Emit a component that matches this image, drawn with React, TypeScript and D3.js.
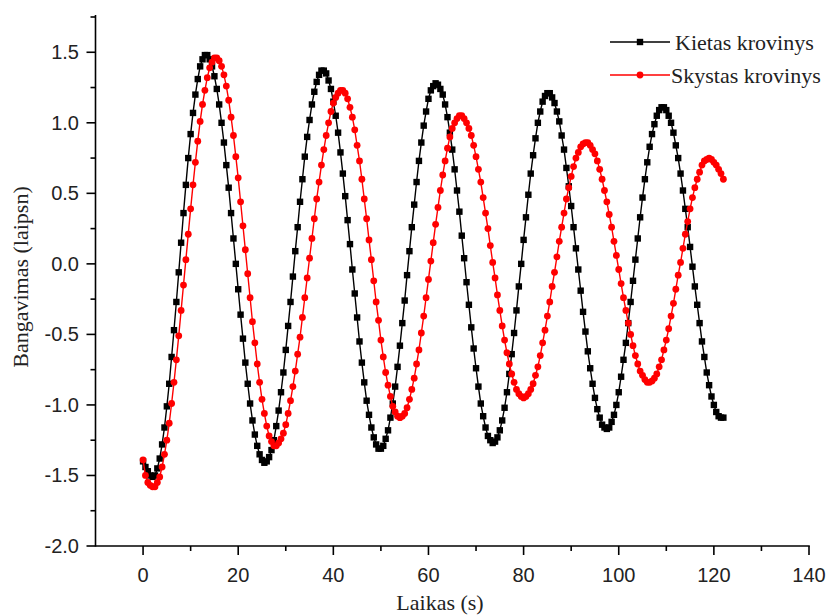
import React from "react";
import * as d3 from "d3";

const seriesNames = ["Kietas krovinys", "Skystas krovinys"];
const timeStep = 0.5;

// Kietas krovinys (black squares), sampled every 0.5 s from t = 0
const kietas = [
  -1.40, -1.44, -1.47, -1.50, -1.51, -1.50, -1.45, -1.38, -1.28, -1.16,
  -1.01, -0.85, -0.66, -0.47, -0.27, -0.06, 0.15, 0.36, 0.56, 0.75,
  0.92, 1.07, 1.20, 1.31, 1.40, 1.45, 1.48, 1.48, 1.45, 1.40,
  1.33, 1.24, 1.13, 1.00, 0.86, 0.70, 0.54, 0.36, 0.18, 0.00,
  -0.18, -0.36, -0.53, -0.70, -0.85, -0.99, -1.11, -1.21, -1.29, -1.35,
  -1.39, -1.41, -1.40, -1.37, -1.32, -1.25, -1.15, -1.04, -0.91, -0.77,
  -0.61, -0.44, -0.27, -0.09, 0.09, 0.26, 0.44, 0.60, 0.76, 0.90,
  1.02, 1.13, 1.22, 1.29, 1.34, 1.37, 1.37, 1.35, 1.30, 1.24,
  1.15, 1.05, 0.93, 0.79, 0.64, 0.48, 0.31, 0.14, -0.04, -0.21,
  -0.38, -0.55, -0.70, -0.84, -0.97, -1.07, -1.16, -1.23, -1.28, -1.31,
  -1.31, -1.29, -1.24, -1.18, -1.09, -0.99, -0.87, -0.73, -0.58, -0.42,
  -0.26, -0.08, 0.09, 0.26, 0.42, 0.58, 0.73, 0.86, 0.98, 1.08,
  1.17, 1.23, 1.26, 1.28, 1.27, 1.24, 1.20, 1.13, 1.04, 0.93,
  0.81, 0.67, 0.52, 0.37, 0.20, 0.04, -0.13, -0.29, -0.45, -0.60,
  -0.74, -0.87, -0.99, -1.08, -1.16, -1.22, -1.25, -1.27, -1.26, -1.23,
  -1.18, -1.11, -1.02, -0.91, -0.78, -0.64, -0.49, -0.33, -0.16, 0.00,
  0.17, 0.33, 0.49, 0.64, 0.77, 0.89, 1.00, 1.08, 1.15, 1.19,
  1.21, 1.21, 1.18, 1.14, 1.08, 1.01, 0.91, 0.81, 0.68, 0.55,
  0.41, 0.26, 0.11, -0.04, -0.19, -0.34, -0.48, -0.62, -0.74, -0.85,
  -0.95, -1.03, -1.09, -1.14, -1.16, -1.17, -1.16, -1.12, -1.07, -1.00,
  -0.91, -0.80, -0.68, -0.56, -0.42, -0.27, -0.12, 0.03, 0.18, 0.33,
  0.47, 0.60, 0.72, 0.83, 0.92, 0.99, 1.05, 1.09, 1.11, 1.11,
  1.09, 1.05, 1.00, 0.93, 0.84, 0.75, 0.64, 0.52, 0.39, 0.26,
  0.12, -0.02, -0.16, -0.29, -0.42, -0.55, -0.66, -0.77, -0.86, -0.94,
  -1.00, -1.05, -1.08, -1.09, -1.09,
];

// Skystas krovinys (red circles), sampled every 0.5 s from t = 0
const skystas = [
  -1.39, -1.50, -1.55, -1.57, -1.58, -1.58, -1.55, -1.51, -1.44, -1.35,
  -1.25, -1.13, -0.99, -0.84, -0.68, -0.51, -0.33, -0.15, 0.03, 0.21,
  0.39, 0.56, 0.72, 0.87, 1.01, 1.13, 1.23, 1.32, 1.39, 1.43,
  1.46, 1.46, 1.44, 1.40, 1.34, 1.26, 1.16, 1.04, 0.91, 0.76,
  0.61, 0.44, 0.27, 0.10, -0.07, -0.24, -0.41, -0.56, -0.71, -0.84,
  -0.96, -1.06, -1.15, -1.22, -1.26, -1.29, -1.29, -1.27, -1.24, -1.20,
  -1.14, -1.06, -0.97, -0.87, -0.76, -0.64, -0.52, -0.38, -0.24, -0.10,
  0.04, 0.18, 0.32, 0.46, 0.58, 0.70, 0.81, 0.91, 1.00, 1.08,
  1.14, 1.18, 1.21, 1.23, 1.23, 1.21, 1.17, 1.11, 1.04, 0.95,
  0.84, 0.73, 0.60, 0.46, 0.32, 0.17, 0.03, -0.12, -0.27, -0.40,
  -0.54, -0.66, -0.77, -0.86, -0.94, -1.01, -1.05, -1.08, -1.09, -1.08,
  -1.06, -1.02, -0.96, -0.89, -0.81, -0.71, -0.61, -0.49, -0.37, -0.24,
  -0.11, 0.02, 0.15, 0.28, 0.40, 0.52, 0.63, 0.73, 0.82, 0.90,
  0.96, 1.00, 1.03, 1.05, 1.05, 1.03, 1.00, 0.96, 0.91, 0.84,
  0.76, 0.67, 0.58, 0.47, 0.36, 0.25, 0.13, 0.01, -0.10, -0.22,
  -0.33, -0.44, -0.54, -0.63, -0.71, -0.78, -0.84, -0.89, -0.92, -0.94,
  -0.95, -0.94, -0.92, -0.89, -0.85, -0.79, -0.73, -0.65, -0.56, -0.47,
  -0.37, -0.27, -0.16, -0.06, 0.05, 0.16, 0.26, 0.36, 0.46, 0.54,
  0.62, 0.69, 0.75, 0.79, 0.83, 0.85, 0.86, 0.86, 0.84, 0.81,
  0.78, 0.73, 0.67, 0.60, 0.52, 0.44, 0.35, 0.26, 0.16, 0.06,
  -0.04, -0.14, -0.24, -0.33, -0.42, -0.50, -0.58, -0.65, -0.71, -0.76,
  -0.79, -0.82, -0.84, -0.84, -0.83, -0.81, -0.78, -0.73, -0.68, -0.61,
  -0.54, -0.46, -0.37, -0.28, -0.18, -0.08, 0.01, 0.11, 0.21, 0.30,
  0.39, 0.47, 0.54, 0.60, 0.65, 0.70, 0.73, 0.74, 0.75, 0.74,
  0.72, 0.70, 0.67, 0.64, 0.60,
];

const xTicks = [0, 20, 40, 60, 80, 100, 120, 140];
const xTickLabels = ["0", "20", "40", "60", "80", "100", "120", "140"];
const xMinorTicks = [10, 30, 50, 70, 90, 110, 130];
const yTicks = [-2.0, -1.5, -1.0, -0.5, 0.0, 0.5, 1.0, 1.5];
const yTickLabels = ["-2.0", "-1.5", "-1.0", "-0.5", "0.0", "0.5", "1.0", "1.5"];
const yMinorTicks = [-1.75, -1.25, -0.75, -0.25, 0.25, 0.75, 1.25, 1.75];
const xTitle = "Laikas (s)";
const yTitle = "Bangavimas (laipsn)";

const W = 832;
const H = 616;
const RED = "#ff0000";
const SANS = "'Liberation Sans', Arial, sans-serif";
const SERIF = "'Liberation Serif', 'Times New Roman', serif";

export default function App() {
  const x = d3.scaleLinear().domain([-10, 140]).range([95.5, 809]);
  const y = d3.scaleLinear().domain([-2, 1.75]).range([546, 17]);
  const x0 = x.range()[0];
  const y0 = y.range()[0];

  const toPts = (vals: number[]) => vals.map((v, i) => [i * timeStep, v] as [number, number]);
  const blackPts = toPts(kietas);
  const redPts = toPts(skystas);
  const line = d3
    .line<[number, number]>()
    .x((d) => x(d[0]))
    .y((d) => y(d[1]));

  const sq = 6.4;
  const cr = 3.4;

  return (
    <svg
      width={W}
      height={H}
      style={{ position: "absolute", left: 0, top: 0, background: "#fff" }}
    >
      <rect x={0} y={0} width={W} height={H} fill="#fff" />
      {/* series: black */}
      <path d={line(blackPts) || ""} fill="none" stroke="#000" strokeWidth={1.4} />
      {blackPts.map((d, i) => (
        <rect
          key={"b" + i}
          x={x(d[0]) - sq / 2}
          y={y(d[1]) - sq / 2}
          width={sq}
          height={sq}
          fill="#000"
        />
      ))}
      {/* series: red */}
      <path d={line(redPts) || ""} fill="none" stroke={RED} strokeWidth={1.4} />
      {redPts.map((d, i) => (
        <circle key={"r" + i} cx={x(d[0])} cy={y(d[1])} r={cr} fill={RED} />
      ))}

      {/* axes */}
      <g stroke="#000" strokeWidth={1.6} fill="none">
        <line x1={x0} x2={x(140) + 0.8} y1={y0} y2={y0} />
        <line x1={x0} x2={x0} y1={y0 + 0.8} y2={y(1.75) - 2} />
        {xTicks.map((t) => (
          <line key={"xt" + t} x1={x(t)} x2={x(t)} y1={y0} y2={y0 + 9} />
        ))}
        {xMinorTicks.map((t) => (
          <line key={"xm" + t} x1={x(t)} x2={x(t)} y1={y0} y2={y0 + 5} />
        ))}
        {yTicks.map((t) => (
          <line key={"yt" + t} x1={x0 - 9} x2={x0} y1={y(t)} y2={y(t)} />
        ))}
        {yMinorTicks.map((t) => (
          <line key={"ym" + t} x1={x0 - 5} x2={x0} y1={y(t)} y2={y(t)} />
        ))}
      </g>
      <g fontFamily={SANS} fontSize={20} fill="#222">
        {xTicks.map((t, i) => (
          <text key={"xl" + t} x={x(t)} y={582} textAnchor="middle">
            {xTickLabels[i]}
          </text>
        ))}
        {yTicks.map((t, i) => (
          <text key={"yl" + t} x={79} y={y(t) + 7} textAnchor="end">
            {yTickLabels[i]}
          </text>
        ))}
      </g>
      <text x={440} y={610} textAnchor="middle" fontFamily={SERIF} fontSize={22} fill="#222">
        {xTitle}
      </text>
      <text
        transform={`translate(28,277) rotate(-90)`}
        textAnchor="middle"
        fontFamily={SERIF}
        fontSize={22}
        fill="#222"
      >
        {yTitle}
      </text>

      {/* legend */}
      <g>
        <line x1={610} x2={670} y1={42} y2={42} stroke="#000" strokeWidth={1.4} />
        <rect x={640 - sq / 2} y={42 - sq / 2} width={sq} height={sq} fill="#000" />
        <text x={675} y={49.5} fontFamily={SERIF} fontSize={22} fill="#222">
          {seriesNames[0]}
        </text>
        <line x1={610} x2={670} y1={75} y2={75} stroke={RED} strokeWidth={1.4} />
        <circle cx={640} cy={75} r={cr} fill={RED} />
        <text x={671} y={82.5} fontFamily={SERIF} fontSize={22} fill="#222">
          {seriesNames[1]}
        </text>
      </g>
    </svg>
  );
}
